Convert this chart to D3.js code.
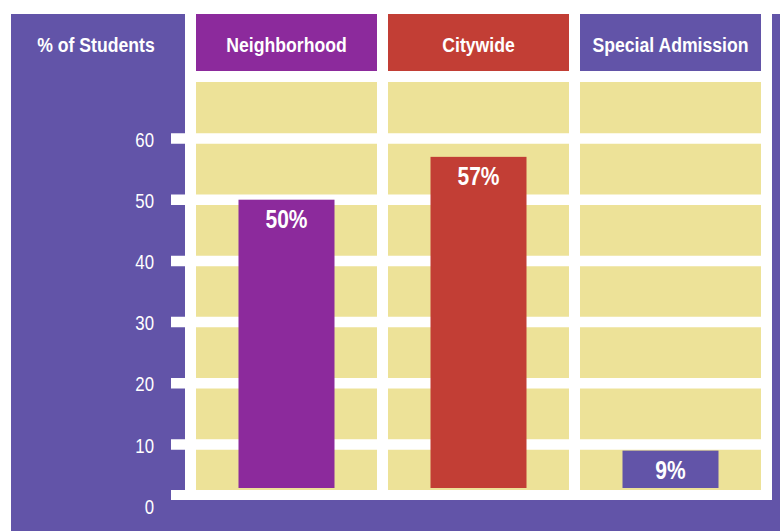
<!DOCTYPE html>
<html>
<head>
<meta charset="utf-8">
<script src="https://cdn.jsdelivr.net/npm/d3@7"></script>
<style>
  html, body { margin: 0; padding: 0; background: #fff; }
  svg { display: block; }
  text { font-family: "Liberation Sans", Arial, sans-serif; fill: #fff; }
</style>
</head>
<body>
<svg id="chart" width="780" height="531"></svg>
<script>
// chart data
const categories = ['Neighborhood', 'Citywide', 'Special Admission'];
const values = [50, 57, 9];
const valueLabels = ['50%', '57%', '9%'];
const colors = ['#8c2a9c', '#c23e35', '#6254a8'];
const yTicks = [0, 10, 20, 30, 40, 50, 60];
const axisTitle = '% of Students';

const PURPLE = '#6254a8';
const YELLOW = '#ede298';
const NARROW = 0.84; // squeeze text horizontally to look like a condensed face

const svg = d3.select('#chart');

// layout
const panel = {left: 11, top: 14};
const plot = {left: 185, right: 772, top: 14, bottom: 500};
const header = {top: 14, bottom: 71};
const cellTop = 82;
const baseTop = 490;
const tickLeft = 171;

const x = d3.scaleBand()
  .domain(categories)
  .range([plot.left, plot.right])
  .paddingInner(11 / 192)
  .paddingOuter(11 / 192);

const y = d3.scaleLinear()
  .domain([0, 60])
  .range([505.7, 138.5]);

const barWidth = 96;

const place = (px, py) => `translate(${px},${py}) scale(${NARROW},1)`;

// backgrounds
svg.append('rect')
  .attr('x', panel.left).attr('y', panel.top)
  .attr('width', 780 - panel.left).attr('height', 531 - panel.top)
  .attr('fill', PURPLE);

svg.append('rect')
  .attr('x', plot.left).attr('y', plot.top)
  .attr('width', plot.right - plot.left).attr('height', plot.bottom - plot.top)
  .attr('fill', '#fff');

// column headers
const heads = svg.append('g').selectAll('g')
  .data(categories)
  .join('g');

heads.append('rect')
  .attr('x', d => x(d))
  .attr('y', header.top)
  .attr('width', x.bandwidth())
  .attr('height', header.bottom - header.top)
  .attr('fill', (d, i) => colors[i]);

heads.append('text')
  .attr('transform', d => place(x(d) + x.bandwidth() / 2, 52))
  .attr('text-anchor', 'middle')
  .style('font-size', '21px')
  .style('font-weight', 'bold')
  .text(d => d);

// axis title
svg.append('text')
  .attr('transform', place(96, 52))
  .attr('text-anchor', 'middle')
  .style('font-size', '21px')
  .style('font-weight', 'bold')
  .text(axisTitle);

// yellow cells
svg.append('g').selectAll('rect')
  .data(categories)
  .join('rect')
  .attr('x', d => x(d))
  .attr('y', cellTop)
  .attr('width', x.bandwidth())
  .attr('height', baseTop - cellTop)
  .attr('fill', YELLOW);

// grid lines (with ticks reaching into the panel)
svg.append('g').selectAll('line')
  .data(yTicks.filter(t => t > 0))
  .join('line')
  .attr('x1', tickLeft)
  .attr('x2', plot.right)
  .attr('y1', d => y(d))
  .attr('y2', d => y(d))
  .attr('stroke', '#fff')
  .attr('stroke-width', 10.5);

// baseline
svg.append('rect')
  .attr('x', tickLeft)
  .attr('y', baseTop)
  .attr('width', plot.right - tickLeft)
  .attr('height', plot.bottom - baseTop)
  .attr('fill', '#fff');

// bars
const barBottom = baseTop - 2;
svg.append('g').selectAll('rect')
  .data(values)
  .join('rect')
  .attr('x', (d, i) => x(categories[i]) + (x.bandwidth() - barWidth) / 2)
  .attr('y', d => y(d))
  .attr('width', barWidth)
  .attr('height', d => barBottom - y(d))
  .attr('fill', (d, i) => colors[i]);

// value labels
svg.append('g').selectAll('text')
  .data(values)
  .join('text')
  .attr('transform', (d, i) => place(x(categories[i]) + x.bandwidth() / 2, y(d) + 28))
  .attr('text-anchor', 'middle')
  .style('font-size', '25px')
  .style('font-weight', 'bold')
  .text((d, i) => valueLabels[i]);

// y axis labels
const yAxis = svg.append('g')
  .attr('transform', 'translate(154,0)')
  .call(d3.axisLeft(y).tickValues(yTicks).tickSize(0).tickPadding(0));

yAxis.select('.domain').remove();
yAxis.selectAll('text')
  .attr('x', 0)
  .attr('dy', null)
  .attr('transform', `translate(0,7.5) scale(${NARROW},1)`)
  .attr('fill', '#fff')
  .style('font-family', '"Liberation Sans", Arial, sans-serif')
  .style('font-size', '20px');
</script>
</body>
</html>
